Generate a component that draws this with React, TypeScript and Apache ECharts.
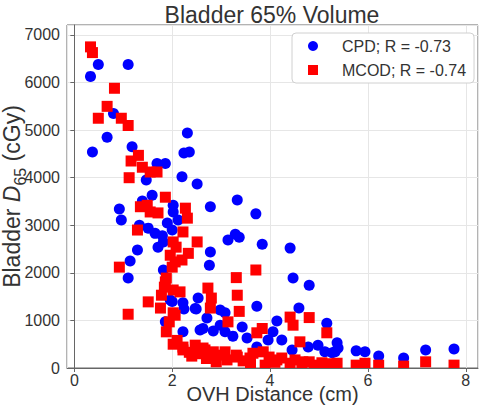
import React, { useEffect, useRef } from "react";
import * as echarts from "echarts";

// OVH distance (cm) vs bladder D65 (cGy)
const cpdPoints: [number, number][] = [
  [0.33, 6130], [0.49, 6380], [1.1, 6380], [0.37, 4540], [0.67, 4850], [0.8, 5350], [1.18, 4650],
  [2.31, 4940], [2.24, 4520], [2.35, 4540], [2.2, 4020], [2.51, 3870], [1.69, 4300], [1.86, 4300],
  [1.47, 3950], [1.59, 3630], [1.39, 3510], [2.02, 3420], [2.02, 3280], [0.92, 3340], [0.96, 3110],
  [2.12, 3110], [1.33, 3000], [1.51, 2940], [1.65, 2830], [1.8, 2780], [1.9, 3050], [2.0, 2900],
  [1.82, 2650], [1.71, 2540], [1.29, 2480], [1.14, 2250], [1.1, 1890], [1.82, 2060], [2.78, 3390],
  [3.33, 3530], [3.71, 3240], [3.29, 2810], [3.37, 2750], [3.14, 2690], [3.84, 2600], [4.41, 2520],
  [2.78, 2440], [2.76, 2160], [4.47, 1890], [4.8, 1740], [2.0, 1400], [2.22, 1370], [2.24, 1240],
  [2.53, 1470], [2.47, 1250], [2.98, 1220], [2.71, 1050], [1.86, 970], [2.22, 760], [2.63, 830],
  [2.84, 780], [2.98, 900], [3.08, 1160], [3.73, 1300], [4.59, 1260], [4.14, 990], [5.16, 940],
  [3.43, 860], [4.06, 760], [3.53, 630], [3.24, 670], [3.96, 590], [4.24, 590], [4.45, 380],
  [4.78, 440], [4.98, 480], [5.12, 340], [3.73, 440], [5.37, 530], [5.33, 340], [5.76, 360],
  [5.94, 340], [6.22, 250], [6.73, 210], [7.18, 380], [7.76, 400], [2.57, 800], [1.96, 1430],
  [2.49, 1240], [5.27, 320], [5.39, 420], [3.08, 760],
];

const mcodPoints: [number, number][] = [
  [0.33, 6750], [0.37, 6630], [0.82, 5880], [0.67, 5500], [0.49, 5250], [0.96, 5250], [1.1, 5100],
  [1.31, 4470], [1.16, 4350], [1.39, 4220], [1.55, 4120], [1.69, 4120], [1.12, 4000], [1.86, 3590],
  [1.35, 3390], [1.49, 3420], [1.55, 3280], [1.71, 3260], [2.27, 3360], [2.31, 3150], [1.29, 2900],
  [2.22, 2860], [2.02, 2650], [2.51, 2650], [2.08, 2540], [1.96, 2370], [2.06, 2230], [2.33, 2410],
  [2.2, 2270], [2.0, 2120], [1.88, 1890], [0.92, 2120], [1.86, 1810], [1.84, 1700], [2.02, 1640],
  [2.16, 1600], [1.78, 1530], [1.51, 1390], [1.76, 1260], [2.02, 1160], [1.1, 1130], [1.94, 970],
  [1.88, 760], [2.1, 580], [2.22, 440], [2.47, 480], [2.67, 380], [2.84, 340], [3.02, 270],
  [3.12, 170], [2.73, 1680], [2.78, 1260], [2.8, 1470], [3.71, 2060], [3.31, 1900], [3.33, 1530],
  [3.37, 1190], [3.14, 970], [3.84, 830], [3.73, 740], [4.41, 1070], [4.47, 900], [4.8, 1060],
  [5.16, 740], [4.61, 550], [5.37, 100], [5.76, 60], [5.94, 100], [6.22, 60], [6.73, 40],
  [7.18, 130], [7.76, 60], [3.08, 340], [3.31, 270], [3.65, 310], [3.86, 340], [3.98, 230],
  [4.24, 210], [4.51, 170], [4.8, 130], [5.06, 110], [2.02, 500], [2.35, 330], [2.55, 300],
  [2.4, 250], [4.41, 100], [4.65, 80], [4.9, 60], [5.1, 70], [5.25, 90], [2.06, 1110],
  [2.22, 380], [3.45, 150], [3.6, 90], [3.9, 60], [4.1, 120], [2.9, 130], [2.7, 200],
  [2.63, 420], [3.33, 230], [3.59, 210], [4.14, 170], [4.67, 130],
];

const seriesNames = ["CPD; R = -0.73", "MCOD; R = -0.74"];
const titleText = "Bladder 65% Volume";
const xAxisTitle = "OVH Distance (cm)";

const FONT = '"Liberation Sans", Arial, sans-serif';

export default function App() {
  const ref = useRef<HTMLDivElement>(null);

  useEffect(() => {
    if (!ref.current) return;
    const chart = echarts.init(ref.current, undefined, { renderer: "svg" });
    const markSize = 11;

    chart.setOption({
      animation: false,
      backgroundColor: "#ffffff",
      textStyle: { fontFamily: FONT },
      graphic: [
        {
          type: "text",
          x: 272,
          y: 15,
          style: {
            text: titleText,
            fontSize: 23,
            fontFamily: FONT,
            fill: "#333333",
            align: "center",
            verticalAlign: "middle",
          },
        },
      ],
      grid: {
        left: 67,
        right: 4,
        top: 25,
        bottom: 45,
        containLabel: false,
        outerBoundsMode: "none",
        show: true,
        borderColor: "#666666",
        borderWidth: 1,
        backgroundColor: "transparent",
      },
      legend: {
        orient: "vertical",
        left: 292,
        top: 33,
        padding: [5, 8, 5, 16],
        itemGap: 8,
        itemWidth: 10,
        itemHeight: 10,
        backgroundColor: "#ffffff",
        borderColor: "#d0d0d0",
        borderWidth: 1,
        borderRadius: 4,
        textStyle: { fontSize: 16, color: "#333333", fontFamily: FONT, padding: [0, 0, 0, 19] },
        data: [
          { name: seriesNames[0], icon: "circle" },
          { name: seriesNames[1], icon: "rect" },
        ],
      },
      xAxis: {
        type: "value",
        min: -0.15,
        max: 8.25,
        splitNumber: 4,
        name: xAxisTitle,
        nameLocation: "middle",
        nameGap: 19,
        nameMoveOverlap: false,
        nameTextStyle: { fontSize: 20, lineHeight: 14, color: "#333333", fontFamily: FONT },
        axisLine: { show: true, lineStyle: { color: "#666666", width: 1 } },
        axisTick: { show: true, length: 4, lineStyle: { color: "#666666" } },
        axisLabel: {
          fontSize: 16,
          lineHeight: 14,
          color: "#333333",
          fontFamily: FONT,
          margin: 5,
          showMinLabel: false,
          showMaxLabel: false,
        },
        splitLine: { show: true, lineStyle: { color: "#e6e6e6", width: 1 } },
      },
      yAxis: {
        type: "value",
        min: 0,
        max: 7210,
        interval: 1000,
        name: "{a|Bladder }{d|D}{s|65}{a| (cGy)}",
        nameLocation: "middle",
        nameRotate: 90,
        nameGap: 39,
        nameMoveOverlap: false,
        nameTextStyle: {
          color: "#333333",
          fontFamily: FONT,
          rich: {
            a: { fontSize: 23, fontFamily: FONT, color: "#333333", lineHeight: 24, verticalAlign: "top" },
            d: {
              fontSize: 23,
              fontFamily: FONT,
              fontStyle: "italic",
              color: "#333333",
              lineHeight: 24,
              verticalAlign: "top",
            },
            s: { fontSize: 16, fontFamily: FONT, color: "#333333", lineHeight: 28, verticalAlign: "bottom" },
          },
        },
        axisLine: { show: true, lineStyle: { color: "#666666", width: 1 } },
        axisTick: { show: true, length: 4, lineStyle: { color: "#666666" } },
        axisLabel: {
          fontSize: 16,
          color: "#333333",
          fontFamily: FONT,
          margin: 7,
          showMaxLabel: false,
          formatter: (v: number) => String(v),
        },
        splitLine: { show: true, lineStyle: { color: "#e6e6e6", width: 1 } },
      },
      series: [
        {
          name: seriesNames[0],
          type: "scatter",
          data: cpdPoints,
          symbol: "circle",
          symbolSize: markSize,
          itemStyle: { color: "#0000ff", opacity: 1 },
          z: 2,
        },
        {
          name: seriesNames[1],
          type: "custom",
          data: mcodPoints,
          clip: true,
          itemStyle: { color: "#ff0000" },
          encode: { x: 0, y: 1 },
          z: 3,
          renderItem: (params: any, api: any) => {
            const p = api.coord([api.value(0), api.value(1)]);
            return {
              type: "rect",
              shape: { x: p[0] - markSize / 2, y: p[1] - markSize / 2, width: markSize, height: markSize },
              style: { fill: "#ff0000" },
            };
          },
        },
      ],
    });

    return () => chart.dispose();
  }, []);

  return (
    <div
      ref={ref}
      style={{ position: "fixed", left: 0, top: 0, width: 482, height: 413 }}
    />
  );
}
